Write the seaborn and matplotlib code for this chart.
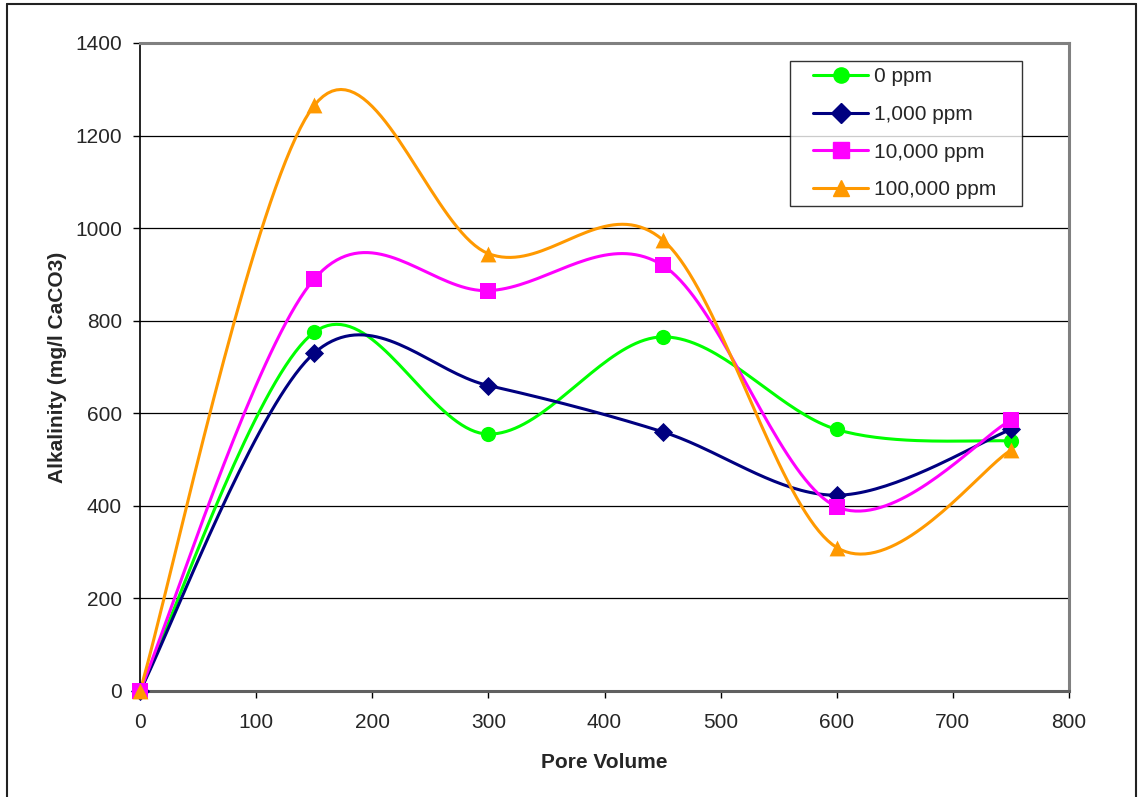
import numpy as np
import pandas as pd
import matplotlib
matplotlib.use("Agg")
import matplotlib.pyplot as plt
from matplotlib.lines import Line2D
from matplotlib.legend_handler import HandlerLine2D
import seaborn as sns

pore_volume = [0, 150, 300, 450, 600, 750]
ppm_0 = [0, 775, 555, 765, 565, 540]
ppm_1000 = [0, 730, 660, 560, 423, 565]
ppm_10000 = [0, 890, 865, 920, 398, 585]
ppm_100000 = [0, 1265, 945, 975, 310, 520]
series_names = ["0 ppm", "1,000 ppm", "10,000 ppm", "100,000 ppm"]
series_values = [ppm_0, ppm_1000, ppm_10000, ppm_100000]
colors = ["#00FF00", "#000080", "#FF00FF", "#FF9900"]
markers = ["o", "D", "s", "^"]
marker_sizes = [120, 95, 120, 130]
y_ticks = [0, 200, 400, 600, 800, 1000, 1200, 1400]
x_ticks = [0, 100, 200, 300, 400, 500, 600, 700, 800]

sns.set_style("white")
plt.rcParams['font.family'] = ['Liberation Sans', 'DejaVu Sans']

FS = 15


def smooth(xs, ys, n=40):
    # Catmull-Rom style Bezier smoothing through data points (Excel-like)
    P = np.column_stack([xs, ys]).astype(float)
    m = len(P)
    out = []
    for i in range(m - 1):
        p0 = P[i - 1] if i > 0 else P[i]
        p1 = P[i]
        p2 = P[i + 1]
        p3 = P[i + 2] if i + 2 < m else P[i + 1]
        b1 = p1 + (p2 - p0) / 6.0
        b2 = p2 - (p3 - p1) / 6.0
        t = np.linspace(0, 1, n)[:, None]
        seg = ((1 - t) ** 3) * p1 + 3 * ((1 - t) ** 2) * t * b1 + 3 * (1 - t) * t ** 2 * b2 + t ** 3 * p2
        out.append(seg if i == 0 else seg[1:])
    c = np.vstack(out)
    return c[:, 0], c[:, 1]


W, H = 1138, 797
fig = plt.figure(figsize=(W / 100, H / 100), dpi=100)
ax = fig.add_axes([140 / W, 1 - 691 / H, (1069 - 140) / W, (691 - 43) / H])

handles = []
for name, vals, col, mk, ms in zip(series_names, series_values, colors, markers, marker_sizes):
    sx, sy = smooth(pore_volume, vals)
    df = pd.DataFrame({"x": sx, "y": sy})
    sns.lineplot(data=df, x="x", y="y", ax=ax, sort=False, estimator=None,
                 color=col, linewidth=2.2, zorder=3)
    dfp = pd.DataFrame({"x": pore_volume, "y": vals})
    sns.scatterplot(data=dfp, x="x", y="y", ax=ax, marker=mk, s=ms, color=col,
                    edgecolor=col, linewidth=0, zorder=4, clip_on=False)
    handles.append(Line2D([0], [0], color=col, lw=2.2, marker=mk,
                          markersize=np.sqrt(ms), markerfacecolor=col, markeredgecolor=col))

ax.set_xlim(0, 800)
ax.set_ylim(0, 1400)
ax.set_xticks(x_ticks)
ax.set_yticks(y_ticks)
ax.set_xticklabels([str(v) for v in x_ticks], fontsize=FS)
ax.set_yticklabels([str(v) for v in y_ticks], fontsize=FS)
ax.tick_params(axis="both", direction="out", length=5, width=1, color="#000000",
               bottom=True, left=True)
ax.tick_params(axis="y", pad=8)
ax.tick_params(axis="x", pad=11)
ax.yaxis.grid(True, color="#000000", linewidth=0.9)
ax.set_axisbelow(True)
ax.set_xlabel("Pore Volume", fontsize=FS, fontweight="bold", labelpad=15)
ax.set_ylabel("Alkalinity (mg/l CaCO3)", fontsize=FS, fontweight="bold", labelpad=6)

ax.spines["left"].set_color("#000000")
ax.spines["left"].set_linewidth(1.2)
for s in ["top", "right", "bottom"]:
    ax.spines[s].set_color("#808080")
    ax.spines[s].set_linewidth(2.2)
ax.spines["bottom"].set_color("#606060")

hmap = {h: HandlerLine2D(xpad=0.8) for h in handles}
leg = ax.legend(handles, series_names, loc="upper left",
                bbox_to_anchor=(790 / W, 1 - 207 / H, 232 / W, 146 / H),
                bbox_transform=fig.transFigure, mode="expand", handler_map=hmap,
                fontsize=FS, frameon=True, fancybox=False, shadow=False,
                handlelength=3.45, handletextpad=0.3, borderpad=0.3, labelspacing=0.9,
                borderaxespad=0)
leg.get_frame().set_edgecolor("#000000")
leg.get_frame().set_linewidth(1.0)
leg.set_zorder(10)

# outer chart border
fig.add_artist(Line2D([7 / W, 7 / W], [0, 1 - 4 / H], transform=fig.transFigure, color="#222222", lw=1.5))
fig.add_artist(Line2D([7 / W, 1136 / W], [1 - 4 / H, 1 - 4 / H], transform=fig.transFigure, color="#222222", lw=1.5))
fig.add_artist(Line2D([1136 / W, 1136 / W], [0, 1 - 4 / H], transform=fig.transFigure, color="#222222", lw=1.5))

fig.savefig("out.png", dpi=100)
